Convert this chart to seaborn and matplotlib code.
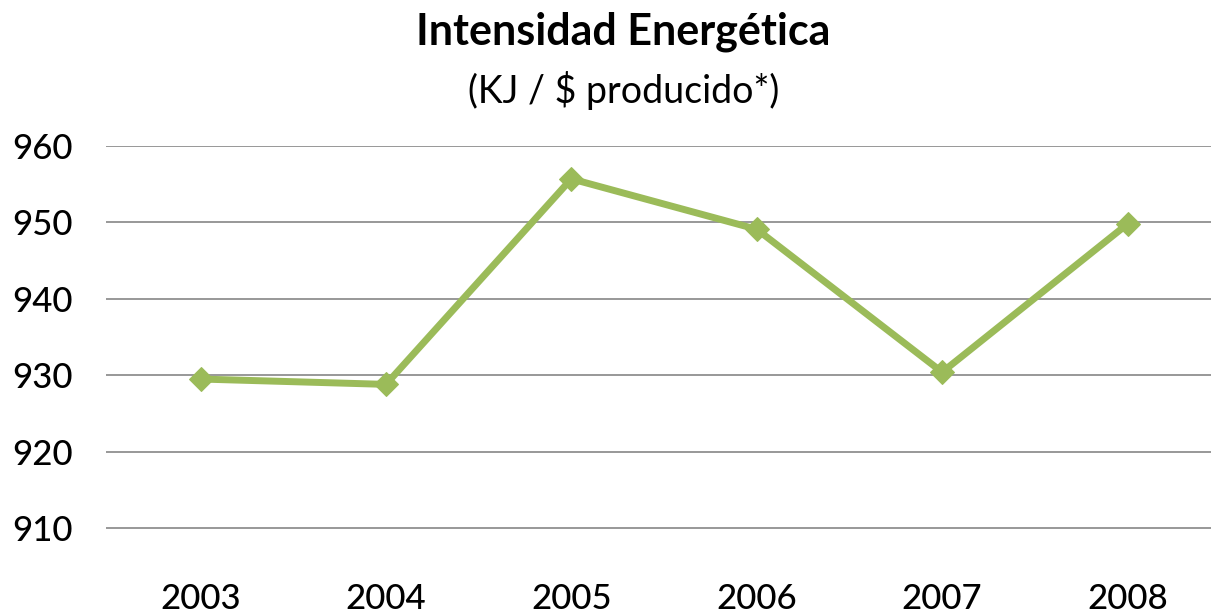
import matplotlib
matplotlib.use("Agg")
import matplotlib.pyplot as plt
import pandas as pd
import seaborn as sns

anios = [2003, 2004, 2005, 2006, 2007, 2008]
intensidad = [929.5, 928.8, 955.7, 949.1, 930.4, 949.8]
ticks_y = [910, 920, 930, 940, 950, 960]

sns.set_theme(style="white")
plt.rcParams["font.family"] = ["Lato", "DejaVu Sans"]

df = pd.DataFrame({"Ano": anios, "Intensidad": intensidad})

fig = plt.figure(figsize=(12.11, 6.13), dpi=100)
ax = fig.add_axes([106 / 1211, 0.0514, 1 - 106 / 1211, 0.7618 - 0.0514])

sns.lineplot(data=df, x="Ano", y="Intensidad", ax=ax, color="#9BBB59",
             linewidth=5, marker="D", markersize=12, markeredgecolor="#9BBB59")

ax.set_xlim(2002.49, 2008.45)
ax.set_ylim(903, 960)
ax.set_yticks(ticks_y)
ax.set_xticks(anios)
ax.set_xticklabels([str(a) for a in anios])
ax.yaxis.grid(True, color="#868686", linewidth=1.2)
ax.set_axisbelow(True)
for s in ax.spines.values():
    s.set_visible(False)
ax.tick_params(axis="both", length=0, labelsize=25, labelcolor="black")
ax.tick_params(axis="y", pad=24)
ax.tick_params(axis="x", pad=1)
for lbl in ax.get_xticklabels() + ax.get_yticklabels():
    lbl.set_fontweight("medium")
ax.set_xlabel("")
ax.set_ylabel("")

fig.text(0.515, 0.948, "Intensidad Energética", ha="center", va="center",
         fontsize=31, fontweight="bold", color="black")
fig.text(0.515, 0.852, "(KJ / $ producido*)", ha="center", va="center",
         fontsize=27, color="black")

fig.savefig("out.png", dpi=100)
